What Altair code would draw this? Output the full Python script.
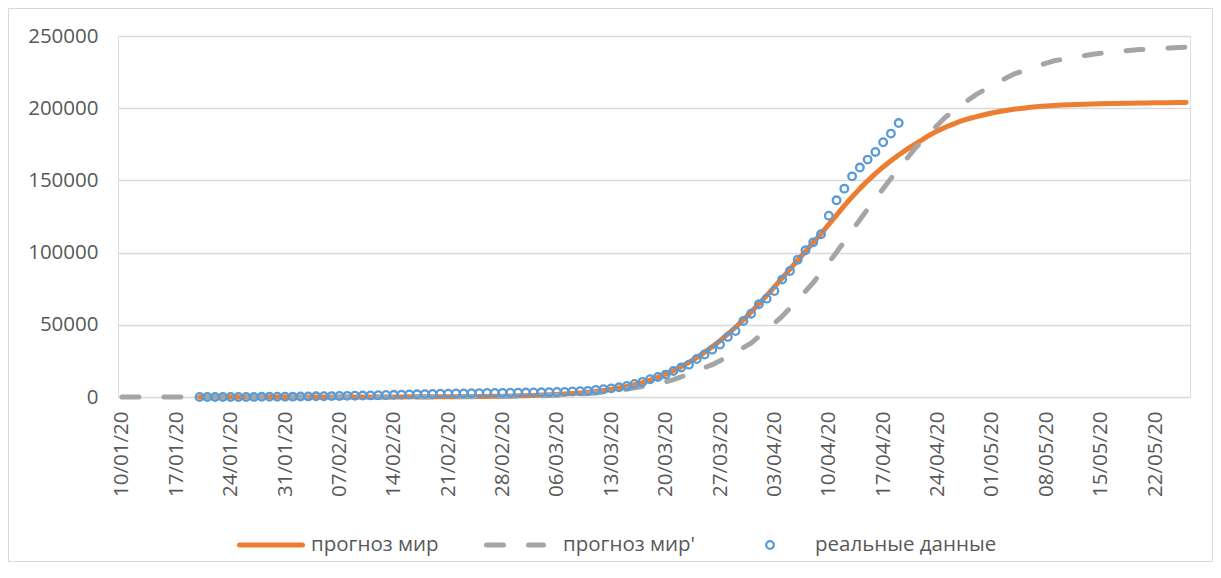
import altair as alt
import pandas as pd

# ---------------- data ----------------
series_names = ["прогноз мир", "прогноз мир'", "реальные данные"]

# прогноз мир (orange), daily from 2020-01-20
orange_start = "2020-01-20"
orange_vals = [
    1, 2, 2, 2, 3, 3, 3, 4, 5, 5, 6, 7,
    9, 10, 12, 14, 16, 19, 22, 26, 30, 35, 41, 48, 56, 66, 77, 90, 105, 123, 144,
    168, 197, 230, 270, 315, 369, 432, 505, 590, 690,
    810, 950, 1110, 1300, 1520, 1780, 2080, 2430, 2850, 3330, 3900, 4560, 5330, 6240,
    7300, 8550, 10000, 11700, 13600, 15800, 18200, 21000, 24000, 27300, 30900, 34800,
    39000, 43500, 48300, 53400, 58800,
    64400, 70200, 76200, 82300, 88500, 94700, 100900, 107000, 113000, 119500, 126000,
    132500, 138600, 144300, 149700, 154700, 159300, 163600, 167600, 171300, 174800,
    178000, 181500, 184300, 186800, 189000, 191000, 192700, 194200, 195500,
    196700, 197700, 198600, 199400, 200000, 200600, 201100, 201500, 201850, 202150,
    202400, 202600, 202800, 202950, 203100, 203200, 203300, 203400, 203500, 203580,
    203650, 203720, 203780, 203830, 203880, 203920,
]

# прогноз мир' (grey dashed), daily from 2020-01-10
gray_start = "2020-01-10"
gray_vals = [
    0, 0, 0, 0, 0, 0, 0, 0, 0, 0, 1, 1, 1, 1, 1, 1, 1, 1, 1, 2, 2, 2,
    2, 3, 3, 4, 5, 6, 7, 8, 10, 12, 15, 18, 21, 26, 31, 37, 45, 54, 65, 78, 94, 113,
    136, 164, 197, 237, 285, 340, 410,
    490, 590, 700, 840, 1000, 1190, 1420, 1680, 2000, 2350, 2800, 3300, 3900, 4600,
    5400, 6300, 7200, 8200, 9300, 10500, 12000, 13900, 16100, 18200, 20300, 22400,
    25100, 28200, 31200, 34200, 37300,
    41900, 46500, 51200, 55900, 61500, 67400, 73200, 79200, 86200, 93200, 100200,
    107700, 115300, 122800, 130100, 137200, 144300, 151300, 158100, 164800, 171500,
    177100, 182700, 188400, 193700, 197700, 201700, 205800, 209600, 212600,
    215500, 218500, 221400, 224000, 225800, 227600, 229400, 231200, 232800, 233700,
    234600, 235600, 236500, 237400, 238000, 238600, 239100, 239600, 240100, 240600,
    240900, 241200, 241500, 241700, 242000, 242300,
]

# реальные данные (blue circles), daily from 2020-01-20
blue_start = "2020-01-20"
blue_vals = [
    6, 9, 17, 18, 26, 42, 56, 82, 131, 133, 171, 213,
    259, 362, 426, 492, 564, 634, 719, 806, 906, 1013, 1113, 1260, 1371, 1523, 1666,
    1770, 1868, 2007, 2122, 2247, 2300, 2458, 2500, 2629, 2708, 2770, 2814, 2872, 2941,
    3000, 3085, 3160, 3254, 3348, 3460, 3558, 3802, 3988, 4262, 4900, 5400, 6000, 6700,
    7700, 9000, 10400, 12300, 13900, 15500, 18000, 20400, 22400, 26300, 29400, 32800,
    36300, 41600, 45700, 52600, 57700,
    64200, 68100, 73400, 81300, 87300, 95100, 101600, 107100, 112700, 125600, 136200,
    144300, 152800, 158900, 164400, 169700, 176400, 182400, 189700,
]

y_ticks = [0, 50000, 100000, 150000, 200000, 250000]
x_tick_dates = pd.date_range("2020-01-10", "2020-05-22", freq="7D")


def frame(start, vals, name):
    d = pd.date_range(start, periods=len(vals), freq="D")
    return pd.DataFrame({"date": d.strftime("%Y-%m-%d"), "value": vals, "series": name})


df_orange = frame(orange_start, orange_vals, series_names[0])
df_gray = frame(gray_start, gray_vals, series_names[1])
df_blue = frame(blue_start, blue_vals, series_names[2])

# ---------------- styling ----------------
FONT = "Open Sans"
TXT = "#595959"
FS = 20.5
ORANGE = "#ED7D31"
GRAY = "#A5A5A5"
BLUE = "#5B9BD5"
GRID = "#D9D9D9"
PT_SIZE = 58
PT_STROKE = 2.3


def dt(ts, hours=0):
    return alt.DateTime(year=ts.year, month=ts.month, date=ts.day, hours=hours, utc=True)


X = alt.X(
    "date:T",
    scale=alt.Scale(
        type="utc",
        domain=[dt(pd.Timestamp("2020-01-09"), 12), dt(pd.Timestamp("2020-05-26"), 12)],
    ),
    axis=alt.Axis(
        values=[dt(t) for t in x_tick_dates],
        labelExpr="utcFormat(datum.value, '%d/%m/%y')",
        labelAngle=270,
        labelPadding=14,
        labelOverlap=False,
        ticks=False,
        domain=False,
        grid=False,
        labelFont=FONT,
        labelFontSize=FS,
        labelColor=TXT,
        title=None,
    ),
)
Y = alt.Y(
    "value:Q",
    scale=alt.Scale(domain=[0, 250000], nice=False),
    axis=alt.Axis(
        values=y_ticks,
        format="d",
        labelPadding=20,
        ticks=False,
        domain=False,
        grid=True,
        gridColor=GRID,
        gridWidth=1.5,
        labelFont=FONT,
        labelFontSize=FS,
        labelColor=TXT,
        title=None,
    ),
)

border = alt.Chart(pd.DataFrame({"k": [0]})).mark_rect(
    fillOpacity=0, stroke=GRID, strokeWidth=1
).encode(
    x=alt.value(-109.5), x2=alt.value(1094.5), y=alt.value(-27.5), y2=alt.value(525.5)
)

orange = alt.Chart(df_orange).mark_line(
    color=ORANGE, strokeWidth=5, strokeCap="round", strokeJoin="round"
).encode(x=X, y=Y)

gray = alt.Chart(df_gray).mark_line(
    color=GRAY, strokeWidth=5, strokeDash=[17, 25], strokeCap="round", strokeJoin="round"
).encode(x=X, y=Y)

blue = alt.Chart(df_blue).mark_point(
    shape="circle", filled=False, size=PT_SIZE, strokeWidth=PT_STROKE, color=BLUE, opacity=1
).encode(x=X, y=Y)

# ---------------- legend (bottom) ----------------
LY = 509
leg_orange = alt.Chart(pd.DataFrame({"label": [series_names[0]]})).mark_rule(
    color=ORANGE, strokeWidth=5, strokeCap="round"
).encode(x=alt.value(121.5), x2=alt.value(184.5), y=alt.value(LY))
leg_gray = alt.Chart(pd.DataFrame({"label": [series_names[1]]})).mark_rule(
    color=GRAY, strokeWidth=5, strokeCap="round", strokeDash=[17, 25]
).encode(x=alt.value(368.5), x2=alt.value(425.5), y=alt.value(LY))
leg_blue = alt.Chart(pd.DataFrame({"label": [series_names[2]]})).mark_point(
    shape="circle", filled=False, size=PT_SIZE, strokeWidth=PT_STROKE, color=BLUE, opacity=1
).encode(x=alt.value(652), y=alt.value(LY))

text_x = [193, 445, 697]
leg_texts = [
    alt.Chart(pd.DataFrame({"label": [name]})).mark_text(
        align="left", baseline="middle", font=FONT, fontSize=FS, color=TXT
    ).encode(x=alt.value(tx), y=alt.value(LY), text="label:N")
    for name, tx in zip(series_names, text_x)
]

chart = alt.layer(
    border, orange, gray, blue, leg_orange, leg_gray, leg_blue, *leg_texts
).properties(
    width=1072,
    height=361,
    autosize=alt.AutoSizeParams(type="none"),
    padding={"left": 110, "top": 28, "right": 23, "bottom": 165},
).configure_view(strokeWidth=0).configure(font=FONT)

chart.save("out.html", embed_options={"renderer": "svg", "actions": False})
